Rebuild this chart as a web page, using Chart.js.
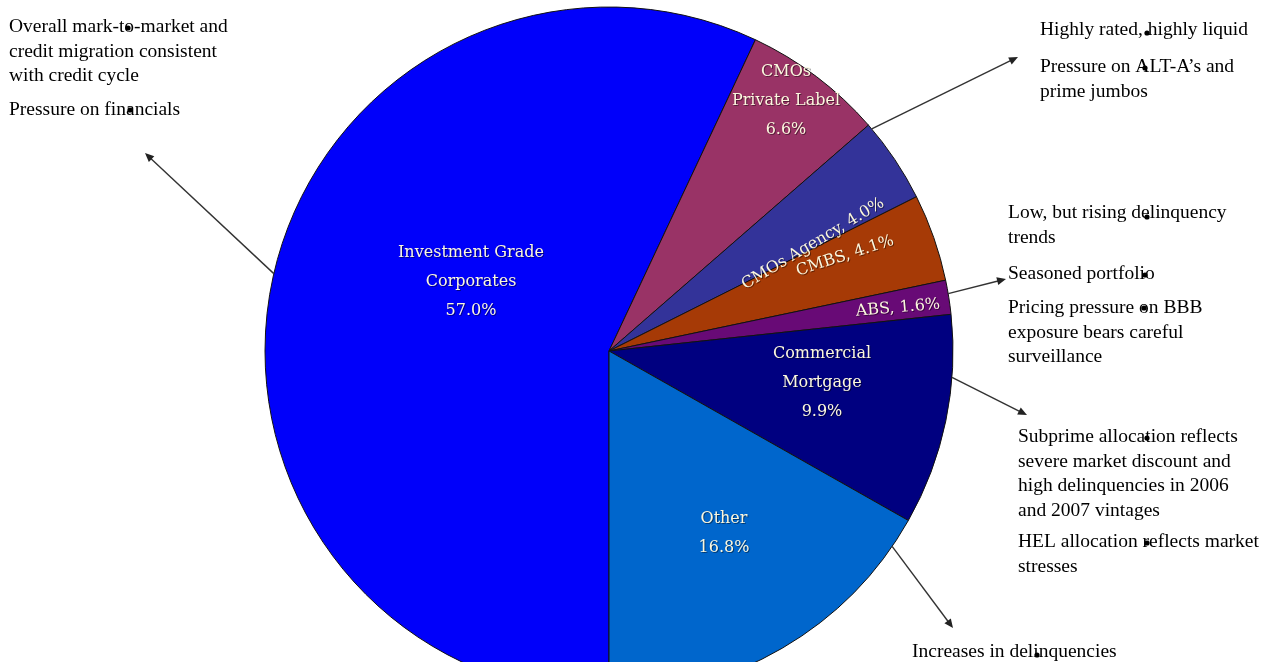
<!DOCTYPE html>
<html>
<head>
<meta charset="utf-8">
<title>Portfolio allocation</title>
<script src="https://cdn.jsdelivr.net/npm/chart.js@4.4.1/dist/chart.umd.min.js"></script>
<style>
  html, body { margin: 0; padding: 0; background: #fff; overflow: hidden; }
  #wrap { position: relative; width: 1265px; height: 702px; }
</style>
</head>
<body>
<div id="wrap"><canvas id="chart-allocation"></canvas></div>
<script>
// Sector allocation of the fixed income portfolio (%)
const sectors = ['Investment Grade Corporates', 'CMOs Private Label', 'CMOs Agency', 'CMBS', 'ABS', 'Commercial Mortgage', 'Other'];
const shares = [57.0, 6.6, 4.0, 4.1, 1.6, 9.9, 16.8];

// how each sector name breaks inside its slice
const sectorLines = [
  ['Investment Grade', 'Corporates'],
  ['CMOs', 'Private Label'],
  ['CMOs Agency'],
  ['CMBS'],
  ['ABS'],
  ['Commercial', 'Mortgage'],
  ['Other']
];

// commentary around the pie
const notes = [
  ['Overall mark-to-market and', 'credit migration consistent', 'with credit cycle'],
  ['Pressure on financials'],
  ['Highly rated, highly liquid'],
  ['Pressure on ALT-A\u2019s and', 'prime jumbos'],
  ['Low, but rising delinquency', 'trends'],
  ['Seasoned portfolio'],
  ['Pricing pressure on BBB', 'exposure bears careful', 'surveillance'],
  ['Subprime allocation reflects', 'severe market discount and', 'high delinquencies in 2006', 'and 2007 vintages'],
  ['HEL allocation reflects market', 'stresses'],
  ['Increases in delinquencies']
];

const sliceColors = ['#0000FA', '#993366', '#333399', '#A63A06', '#680A76', '#000080', '#0066CC'];

// label placement inside the slices, relative to the pie centre
const labelLayout = [
  { dx: -138, dy: -69, rot: 0 },
  { dx: 177, dy: -250, rot: 0 },
  { dx: 204, dy: -107, rot: -31 },
  { dx: 236, dy: -95, rot: -18 },
  { dx: 289, dy: -43, rot: -5 },
  { dx: 213, dy: 32, rot: 0 },
  { dx: 115, dy: 182, rot: 0 }
];

// note blocks: left x, baseline of first line
const noteLayout = [
  [9, 32], [9, 115], [1040, 35], [1040, 72], [1008, 218],
  [1008, 279], [1008, 313], [1018, 442], [1018, 547], [912, 657]
];

// arrows: angle on the rim (deg, clockwise from top) -> tip
const arrowLayout = [
  { angle: 283, tip: [145, 153] },
  { angle: 49.8, tip: [1018, 57] },
  { angle: 80.4, tip: [1006, 279] },
  { angle: 94.4, tip: [1027, 415] },
  { angle: 124.6, tip: [953, 628] }
];

// stray bullet markers sitting on the notes
const bulletDots = [
  [128, 28], [130, 110], [1147, 33], [1145, 68], [1147, 217],
  [1145, 275], [1144, 308], [1147, 438], [1147, 543], [1037, 655]
];

function drawArrow(ctx, x1, y1, x2, y2) {
  const a = Math.atan2(y2 - y1, x2 - x1);
  const len = 9, half = 4;
  ctx.beginPath();
  ctx.moveTo(x1, y1);
  ctx.lineTo(x2 - Math.cos(a) * len * 0.8, y2 - Math.sin(a) * len * 0.8);
  ctx.stroke();
  ctx.beginPath();
  ctx.moveTo(x2, y2);
  ctx.lineTo(x2 - Math.cos(a) * len - Math.sin(a) * half, y2 - Math.sin(a) * len + Math.cos(a) * half);
  ctx.lineTo(x2 - Math.cos(a) * len + Math.sin(a) * half, y2 - Math.sin(a) * len - Math.cos(a) * half);
  ctx.closePath();
  ctx.fill();
}

const calloutPlugin = {
  id: 'callouts',
  afterDatasetsDraw(chart) {
    const ctx = chart.ctx;
    const arcs = chart.getDatasetMeta(0).data;
    const cx = arcs[0].x, cy = arcs[0].y, r = arcs[0].outerRadius;

    // slice labels
    ctx.save();
    ctx.font = '16px "DejaVu Serif"';
    ctx.textAlign = 'center';
    ctx.textBaseline = 'middle';
    ctx.fillStyle = '#FBF7DE';
    ctx.shadowColor = 'rgba(0,0,0,0.45)';
    ctx.shadowOffsetX = 1;
    ctx.shadowOffsetY = 1;
    shares.forEach((v, i) => {
      const pct = v.toFixed(1) + '%';
      const names = sectorLines[i];
      const lines = names.length > 1 || i === 6 ? names.concat([pct]) : [names[0] + ', ' + pct];
      const lay = labelLayout[i];
      const step = 29;
      ctx.save();
      ctx.translate(cx + lay.dx, cy + lay.dy);
      ctx.rotate(lay.rot * Math.PI / 180);
      lines.forEach((t, k) => {
        ctx.fillText(t, 0, (k - (lines.length - 1) / 2) * step);
      });
      ctx.restore();
    });
    ctx.restore();

    // arrows from the rim
    ctx.save();
    ctx.strokeStyle = '#333';
    ctx.fillStyle = '#222';
    ctx.lineWidth = 1.4;
    arrowLayout.forEach(a => {
      const t = a.angle * Math.PI / 180;
      drawArrow(ctx, cx + r * Math.sin(t), cy - r * Math.cos(t), a.tip[0], a.tip[1]);
    });
    ctx.restore();

    // notes
    ctx.save();
    ctx.font = '19.5px "Liberation Serif"';
    ctx.fillStyle = '#000';
    ctx.textAlign = 'left';
    ctx.textBaseline = 'alphabetic';
    notes.forEach((lines, i) => {
      const [x, y] = noteLayout[i];
      lines.forEach((t, k) => ctx.fillText(t, x, y + k * 24.5));
    });
    bulletDots.forEach(([x, y]) => {
      ctx.beginPath();
      ctx.arc(x, y, 2.6, 0, Math.PI * 2);
      ctx.fill();
    });
    ctx.restore();
  }
};

new Chart(document.getElementById('chart-allocation'), {
  type: 'pie',
  data: {
    labels: sectors,
    datasets: [{
      data: shares,
      backgroundColor: sliceColors,
      borderColor: '#111',
      borderWidth: 1,
      radius: 344
    }]
  },
  options: {
    responsive: true,
    maintainAspectRatio: false,
    animation: false,
    events: [],
    rotation: 180,
    layout: { padding: { left: 0, right: 47, top: 0, bottom: 0 } },
    plugins: {
      legend: { display: false },
      tooltip: { enabled: false }
    }
  },
  plugins: [calloutPlugin]
});
</script>
</body>
</html>
